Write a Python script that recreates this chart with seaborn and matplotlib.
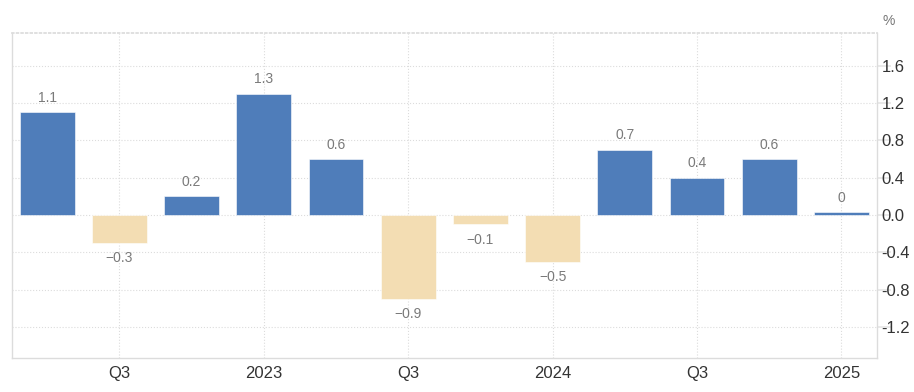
import numpy as np
import pandas as pd
import matplotlib
matplotlib.use("Agg")
import matplotlib.pyplot as plt
import seaborn as sns

# quarterly growth, Q2 2022 .. Q1 2025
quarters = ["Q2 2022", "Q3 2022", "Q4 2022", "Q1 2023", "Q2 2023", "Q3 2023",
            "Q4 2023", "Q1 2024", "Q2 2024", "Q3 2024", "Q4 2024", "Q1 2025"]
values = [1.1, -0.3, 0.2, 1.3, 0.6, -0.9, -0.1, -0.5, 0.7, 0.4, 0.6, 0.03]
tick_labels = ["Q3", "2023", "Q3", "2024", "Q3", "2025"]
ytick_values = [-1.2, -0.8, -0.4, 0.0, 0.4, 0.8, 1.2, 1.6]

BLUE = "#4f7dba"
BEIGE = "#f3ddb3"

sns.set_theme(style="white")
plt.rcParams["font.family"] = ["Liberation Sans", "DejaVu Sans"]

df = pd.DataFrame({"quarter": quarters, "value": values})
df["sign"] = np.where(df["value"] >= 0, "pos", "neg")

fig, ax = plt.subplots(figsize=(9.14, 3.92), dpi=100)
sns.barplot(data=df, x="quarter", y="value", hue="sign",
            palette={"pos": BLUE, "neg": BEIGE}, dodge=False,
            width=0.76, legend=False, ax=ax, saturation=1)

for p in ax.patches:
    p.set_edgecolor("white")
    p.set_linewidth(0.4)

# value labels
for i, v in enumerate(values):
    txt = f"{round(v, 1):g}".replace("-", "\u2212")
    if v >= 0:
        ax.text(i, v + 0.08, txt, ha="center", va="bottom", fontsize=10, color="#7a7a7a")
    else:
        ax.text(i, v - 0.09, txt, ha="center", va="top", fontsize=10, color="#7a7a7a")

ax.set_xlim(-0.49, 11.5)
ax.set_ylim(-1.53, 1.95)

ax.set_xticks([1, 3, 5, 7, 9, 11])
ax.set_xticklabels(tick_labels)
ax.set_yticks(ytick_values)
ax.set_yticklabels([f"{t:.1f}" for t in ytick_values])
ax.yaxis.tick_right()
ax.tick_params(axis="y", length=10, color="#e6e6e6", labelsize=12, labelcolor="#333333", pad=-7)
ax.tick_params(axis="x", length=0, labelsize=12, labelcolor="#333333", pad=6)

ax.grid(True, linestyle=":", color="#dcdcdc", linewidth=0.8)
ax.set_axisbelow(True)

for side in ["left", "bottom", "right"]:
    ax.spines[side].set_visible(True)
    ax.spines[side].set_color("#dcdcdc")
    ax.spines[side].set_linewidth(1)
ax.spines["top"].set_visible(True)
ax.spines["top"].set_color("#dcdcdc")
ax.spines["top"].set_linestyle(":")

ax.set_xlabel("")
ax.set_ylabel("")

fig.text(0.979, 0.965, "%", ha="right", va="top", fontsize=10, color="#777777")

fig.subplots_adjust(left=0.013, right=0.96, top=0.916, bottom=0.087)
fig.savefig("out.png", dpi=100)
